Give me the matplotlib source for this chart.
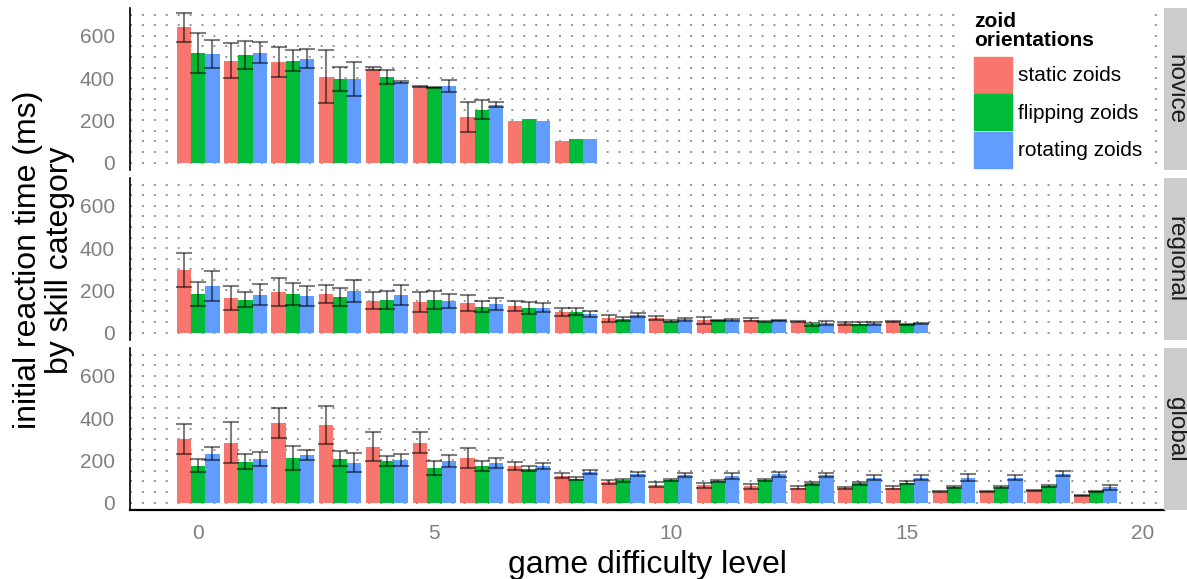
import numpy as np, matplotlib; matplotlib.use("Agg")
import matplotlib.pyplot as plt
from matplotlib.patches import Patch

plt.rcParams["font.family"]=["Liberation Sans","DejaVu Sans"]
nan=np.nan

# initial reaction time (ms) per game level, one array per skill group / zoid type
novice_static=[640,482,477,406,445,360,215,197,103]
novice_static_err=[70,82,70,125,8,3,70,nan,nan]
novice_flip=[520,510,482,397,406,357,250,207,112]
novice_flip_err=[95,67,49,56,32,3,45,nan,nan]
novice_rot=[515,520,491,397,382,363,273,197,112]
novice_rot_err=[67,50,45,81,3,29,12,nan,nan]

regional_static=[297,164,193,183,150,145,141,126,98,68,68,58,62,51,44,52]
regional_static_err=[82,55,67,42,40,48,37,23,18,16,10,18,6,2,6,4]
regional_flip=[183,155,183,169,155,155,122,117,98,65,55,58,52,39,43,39]
regional_flip_err=[58,35,51,41,42,41,26,28,17,9,5,3,3,7,5,2]
regional_rot=[221,179,174,197,179,150,136,117,88,84,63,60,58,46,44,43]
regional_rot_err=[70,50,47,50,47,35,27,21,16,10,6,4,4,8,6,4]

global_static=[302,283,378,368,264,283,212,174,128,96,84,82,77,71,71,71,52,54,58,35]
global_static_err=[71,97,70,89,68,50,47,20,11,10,12,12,13,6,5,8,4,3,3,3]
global_flip=[174,193,212,207,197,164,174,160,114,106,106,103,106,92,92,95,74,74,79,54]
global_flip_err=[31,36,57,36,25,34,22,12,8,8,5,5,5,7,7,7,6,5,5,3]
global_rot=[231,207,226,188,202,197,188,172,144,134,131,126,134,131,118,118,118,118,136,73]
global_rot_err=[30,33,23,45,28,27,25,15,10,10,10,13,12,10,12,13,16,12,12,12]

panels=[("novice",[(novice_static,novice_static_err),(novice_flip,novice_flip_err),(novice_rot,novice_rot_err)]),
        ("regional",[(regional_static,regional_static_err),(regional_flip,regional_flip_err),(regional_rot,regional_rot_err)]),
        ("global",[(global_static,global_static_err),(global_flip,global_flip_err),(global_rot,global_rot_err)])]
names=["static zoids","flipping zoids","rotating zoids"]
cols=["#F8766D","#00BA38","#619CFF"]

W,H=1187,579
fig=plt.figure(figsize=(W/100,H/100),dpi=100)
tops=[8,178,348]; ph=162; L,R=130,1164
for i,(name,series) in enumerate(panels):
    ax=fig.add_axes([L/W,1-(tops[i]+ph)/H,(R-L)/W,ph/H])
    for j,(v,e) in enumerate(series):
        x=np.arange(len(v))+(j-1)*0.3
        ax.bar(x,v,width=0.3,color=cols[j],zorder=2)
        ax.errorbar(x,v,yerr=e,fmt="none",ecolor=(0,0,0,0.5),elinewidth=1.5,
                    capsize=5.5,capthick=1.5,zorder=3)
    ax.set_xlim(-1.445,20.445); ax.set_ylim(-35,732)
    ax.set_yticks([0,200,400,600]); ax.set_yticks(np.arange(0,701,50),minor=True)
    ax.set_xticks([0,5,10,15,20])
    ax.grid(which="both",axis="y",color="#8c8c8c",lw=1.3,ls=(0,(1.1,5.5)),zorder=0)
    ax.tick_params(which="both",length=0,labelcolor="#7F7F7F",labelsize=15)
    ax.tick_params(axis="y",pad=11); ax.tick_params(axis="x",pad=10)
    for s in ["top","right","bottom"]: ax.spines[s].set_visible(False)
    ax.spines["left"].set_linewidth(1.2)
    if i<2: ax.tick_params(labelbottom=False)
    else:
        ax.spines["bottom"].set_visible(True); ax.spines["bottom"].set_linewidth(1.6)
    sax=fig.add_axes([R/W,1-(tops[i]+ph)/H,(W-R)/W,ph/H])
    sax.set_facecolor("#CCCCCC"); sax.set_xticks([]); sax.set_yticks([])
    for s in sax.spines.values(): s.set_visible(False)
    sax.text(0.5,0.5,name,rotation=-90,ha="center",va="center",fontsize=17.5,color="#1A1A1A",transform=sax.transAxes)
    if i==0:
        leg=ax.legend([Patch(color=c) for c in cols],names,title="zoid\norientations",
                      loc="upper left",bbox_to_anchor=(964/W,1-2/H),bbox_transform=fig.transFigure,
                      frameon=True,facecolor="white",edgecolor="none",framealpha=1,fancybox=False,
                      borderaxespad=0,borderpad=0.5,fontsize=15,alignment="left",
                      title_fontproperties={"weight":"bold","size":15},
                      handlelength=1.82,handleheight=2.305,labelspacing=0.05,handletextpad=0.25)
        leg.get_title().set_linespacing(1.0); leg.set_zorder(5)
        leg._legend_box.sep=4.6  # a bit more room under the title

fig.text(44/W,1-260/H,"initial reaction time (ms)\nby skill category",rotation=90,ha="center",va="center",
         multialignment="center",fontsize=23,linespacing=1.05)
fig.text(647/W,1-573/H,"game difficulty level",ha="center",va="baseline",fontsize=23)
plt.savefig("out.png",dpi=100)
